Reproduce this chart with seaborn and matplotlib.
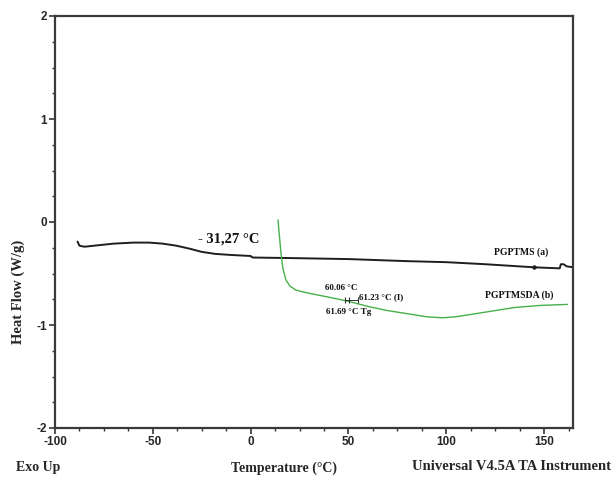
import numpy as np
import pandas as pd
import seaborn as sns
import matplotlib
matplotlib.use("Agg")
import matplotlib.pyplot as plt
from matplotlib.ticker import MultipleLocator

# DSC traces: temperature (°C) and heat flow (W/g)
pgptms_temp = [-88.5, -87.5, -85, -80, -70, -60, -52, -45, -38, -31, -25, -18, -10,
               0, 0.6, 1.2, 20, 50, 80, 100, 120, 145, 158, 158.6, 160, 161.5, 164.8]
pgptms_flow = [-0.19, -0.23, -0.24, -0.23, -0.21, -0.20, -0.20, -0.21, -0.23, -0.26,
               -0.29, -0.31, -0.32, -0.33, -0.34, -0.345, -0.35, -0.36, -0.38, -0.39,
               -0.41, -0.44, -0.45, -0.41, -0.41, -0.43, -0.44]

pgptmsda_temp = [14.0, 14.8, 15.5, 16.5, 18, 20, 23, 27, 32, 40, 50, 60, 70, 80, 90,
                 98, 105, 115, 125, 135, 148, 162]
pgptmsda_flow = [0.02, -0.15, -0.30, -0.45, -0.56, -0.62, -0.66, -0.68, -0.70, -0.73,
                 -0.77, -0.82, -0.86, -0.89, -0.92, -0.93, -0.92, -0.89, -0.86, -0.83,
                 -0.81, -0.80]

x_ticks = [-100, -50, 0, 50, 100, 150]
y_ticks = [-2, -1, 0, 1, 2]

sns.set_style("white")
serif = ["Liberation Serif", "DejaVu Serif"]
sans = ["Liberation Sans", "DejaVu Sans"]

fig = plt.figure(figsize=(6.13, 4.83), dpi=100)
ax = fig.add_axes([55 / 613, 55 / 483, 518 / 613, 412 / 483])

df_a = pd.DataFrame({"T": pgptms_temp, "HF": pgptms_flow})
df_b = pd.DataFrame({"T": pgptmsda_temp, "HF": pgptmsda_flow})
sns.lineplot(data=df_a, x="T", y="HF", ax=ax, color="#1e1e1e", lw=1.4,
             sort=False, estimator=None)
sns.lineplot(data=df_b, x="T", y="HF", ax=ax, color="#47b04b", lw=1.0,
             sort=False, estimator=None)

# small dot on trace (a)
ax.plot([145], [-0.44], marker="o", ms=2.2, color="#1e1e1e")

# Tg construction marks on trace (b)
ax.plot([48, 55], [-0.755, -0.755], color="#333333", lw=0.7)
ax.plot([48, 50.5, 55], [-0.755, -0.755, -0.755], ls="none", marker="|",
        ms=5, mew=0.8, color="#333333")

ax.set_xlim(-100, 164.8)
ax.set_ylim(-2, 2)
ax.set_xticks(x_ticks)
ax.set_yticks(y_ticks)
ax.xaxis.set_minor_locator(MultipleLocator(12.5))
ax.yaxis.set_minor_locator(MultipleLocator(0.25))
ax.set_xticklabels([str(v) for v in x_ticks], fontfamily=sans, fontweight="bold",
                   fontsize=8.5)
ax.set_yticklabels([str(v) for v in y_ticks], fontfamily=sans, fontweight="bold",
                   fontsize=8.5)
ax.tick_params(axis="both", which="major", direction="out", length=4, width=1.2,
               color="#333333", pad=1.5, bottom=True, left=True)
ax.tick_params(axis="both", which="minor", direction="out", length=2.5, width=1.0,
               color="#333333", bottom=True, left=True)
ax.set_xlabel("")
ax.set_ylabel("")
for s in ax.spines.values():
    s.set_color("#3a3a3a")
    s.set_linewidth(1.6)
    s.set_visible(True)

# annotations
ax.text(-11, -0.165, "- 31,27 °C", fontfamily=serif, fontweight="bold",
        fontsize=10.5, ha="center", va="center", color="#111111")
ax.text(46.3, -0.64, "60.06 °C", fontfamily=serif, fontweight="bold", fontsize=6.5,
        ha="center", va="center", color="#111111")
ax.text(55.5, -0.73, "61.23 °C (I)", fontfamily=serif, fontweight="bold",
        fontsize=6.5, ha="left", va="center", color="#111111")
ax.text(38.6, -0.875, "61.69 °C Tg", fontfamily=serif, fontweight="bold",
        fontsize=6.5, ha="left", va="center", color="#111111")
ax.text(138.3, -0.29, "PGPTMS (a)", fontfamily=serif, fontweight="bold",
        fontsize=7, ha="center", va="center", color="#111111")
ax.text(137.3, -0.71, "PGPTMSDA (b)", fontfamily=serif, fontweight="bold",
        fontsize=7, ha="center", va="center", color="#111111")

fig.text(18 / 613, 1 - 292 / 483, "Heat Flow (W/g)", rotation=90, fontfamily=serif,
         fontweight="bold", fontsize=10.5, ha="center", va="center")
fig.text(38 / 613, 1 - 468 / 483, "Exo Up", fontfamily=serif, fontweight="bold",
         fontsize=10, ha="center", va="center")
fig.text(284 / 613, 1 - 468 / 483, "Temperature (°C)", fontfamily=serif,
         fontweight="bold", fontsize=10, ha="center", va="center")
fig.text(512 / 613, 1 - 466 / 483, "Universal V4.5A TA Instrument", fontfamily=serif,
         fontweight="bold", fontsize=10.5, ha="center", va="center")

fig.savefig("out.png", dpi=100)
